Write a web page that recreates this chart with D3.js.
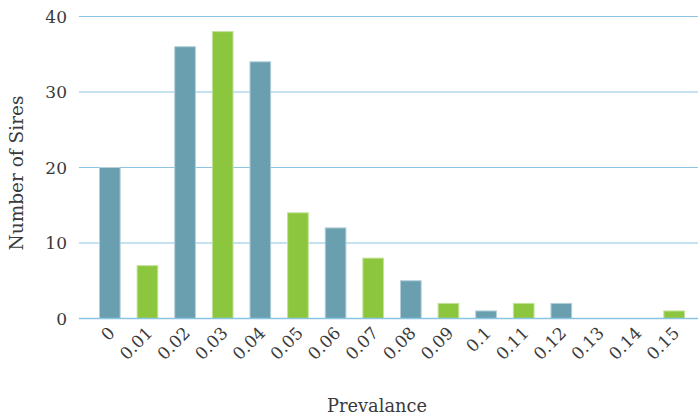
<!DOCTYPE html>
<html><head><meta charset="utf-8">
<script src="https://cdn.jsdelivr.net/npm/d3@7"></script>
<style>body{margin:0;background:#fff}svg{display:block}</style>
</head><body><svg id="c" width="698" height="419"></svg>
<script>
const categories = ["0","0.01","0.02","0.03","0.04","0.05","0.06","0.07","0.08","0.09","0.1","0.11","0.12","0.13","0.14","0.15"];
const values = [20,7,36,38,34,14,12,8,5,2,1,2,2,0,0,1];
const yTicks = [0,10,20,30,40];
const colors = ["#699faf","#8cc63f"];

const svg = d3.select("#c");
const font = "'DejaVu Serif', serif";
const x = d3.scaleBand().domain(categories).range([91, 693]).paddingInner(0.45).paddingOuter(0.225);
const y = d3.scaleLinear().domain([0,40]).range([318.5,16.5]);

svg.append("g").selectAll("line").data(yTicks).join("line")
  .attr("x1",79).attr("x2",698).attr("y1",d=>y(d)).attr("y2",d=>y(d))
  .attr("stroke","#8cc5e3").attr("stroke-width",1.2);

svg.append("g").selectAll("text").data(yTicks).join("text")
  .attr("x",67).attr("y",d=>y(d)).attr("dy","0.36em").attr("text-anchor","end")
  .attr("font-family",font).attr("font-size",17).attr("fill","#3a3a3a").text(d=>d);

svg.append("g").selectAll("rect").data(values).join("rect")
  .attr("x",(d,i)=>x(categories[i])).attr("width",x.bandwidth())
  .attr("y",d=>y(d)).attr("height",d=>y(0)-y(d))
  .attr("fill",(d,i)=>colors[i%2])
  .attr("stroke",(d,i)=>i%2?"#c4e39b":"#b4cfd8").attr("stroke-width",d=>d>0?1:0);

svg.append("line").attr("x1",79).attr("x2",698).attr("y1",y(0)).attr("y2",y(0))
  .attr("stroke","#8cc5e3").attr("stroke-width",1.5);

svg.append("g").selectAll("text").data(categories).join("text")
  .attr("transform",d=>`translate(${x(d)+x.bandwidth()/2+2},${330}) rotate(-45)`)
  .attr("text-anchor","end").attr("dy","0.35em")
  .attr("font-family",font).attr("font-size",17).attr("fill","#3a3a3a").text(d=>d);

svg.append("text").attr("x",377).attr("y",412).attr("text-anchor","middle")
  .attr("font-family",font).attr("font-size",17.8).attr("fill","#3a3a3a").text("Prevalance");
svg.append("text").attr("transform","translate(23,173) rotate(-90)").attr("text-anchor","middle")
  .attr("font-family",font).attr("font-size",18.5).attr("fill","#3a3a3a").text("Number of Sires");
</script></body></html>
